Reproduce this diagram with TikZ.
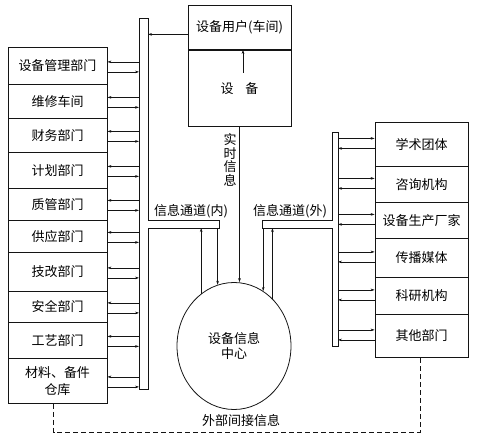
\documentclass[tikz,border=0pt]{standalone}
\usepackage{fontspec}
\setmainfont{Noto Sans CJK SC}
\usepackage{tikz}
\usetikzlibrary{shapes.geometric, arrows.meta, positioning}
\definecolor{ink}{RGB}{20,20,20}
\tikzset{
  dept/.style={rectangle, draw=ink, minimum width=99pt, inner sep=0pt,
    align=center, font=\fontsize{13}{17}\selectfont, line width=0.8pt, anchor=north},
  outer/.style={dept, minimum width=93pt},
  userbox/.style={dept, minimum width=103pt},
  hub/.style={ellipse, draw=ink, minimum width=114pt, minimum height=127pt,
    inner sep=0pt, align=center, font=\fontsize{13}{15}\selectfont, line width=0.8pt},
  bus/.style={draw=ink, fill=white, line width=0.8pt},
  arrow/.style={-{Stealth[length=4pt,width=2.6pt]}, line width=0.5pt, color=ink},
  lbl/.style={font=\fontsize{13}{13.5}\selectfont, inner sep=0pt, align=center},
  dashline/.style={dash pattern=on 5pt off 3pt, line width=0.6pt, color=ink}
}

\begin{document}
\begin{tikzpicture}[x=1pt, y=-1pt]
  \useasboundingbox (0,0) rectangle (477,441);

  % Equipment user (workshop)
  \node[userbox, minimum height=44pt] (user) at (239.5,5) {设备用户(车间)};
  \node[userbox, minimum height=76pt, below=0pt of user] (equip) {设\hspace{0.9em}备};

  % Internal departments
  \node[dept, minimum height=37pt] (l1) at (57.5,47) {设备管理部门};
  \node[dept, minimum height=34pt] (l2) at (57.5,84) {维修车间};
  \node[dept, minimum height=34pt] (l3) at (57.5,118) {财务部门};
  \node[dept, minimum height=36pt] (l4) at (57.5,152) {计划部门};
  \node[dept, minimum height=32pt] (l5) at (57.5,188) {质管部门};
  \node[dept, minimum height=32pt] (l6) at (57.5,220) {供应部门};
  \node[dept, minimum height=39pt] (l7) at (57.5,252) {技改部门};
  \node[dept, minimum height=31pt] (l8) at (57.5,291) {安全部门};
  \node[dept, minimum height=36pt] (l9) at (57.5,322) {工艺部门};
  \node[dept, minimum height=45pt] (l10) at (57.5,358) {材料、备件\\仓库};

  % External bodies
  \node[outer, minimum height=44pt] (r1) at (421.5,122) {学术团体};
  \node[outer, minimum height=36pt] (r2) at (421.5,166) {咨询机构};
  \node[outer, minimum height=36pt] (r3) at (421.5,202) {设备生产厂家};
  \node[outer, minimum height=39pt] (r4) at (421.5,238) {传播媒体};
  \node[outer, minimum height=37pt] (r5) at (421.5,277) {科研机构};
  \node[outer, minimum height=43pt] (r6) at (421.5,314) {其他部门};

  % Information centre
  \node[hub] (infoc) at (234,346) {设备信息\\中心};

  % Channels (internal / external)
  \draw[bus] (139,18) -- (148,18) -- (148,220) -- (219,220) -- (219,228)
    -- (148,228) -- (148,389) -- (139,389) -- cycle;
  \draw[bus] (338,132) -- (332,132) -- (332,220) -- (262,220) -- (262,228)
    -- (332,228) -- (332,346) -- (338,346) -- cycle;
  \coordinate (busLw) at (139,0);
  \coordinate (busLe) at (148,0);
  \coordinate (busRe) at (338,0);
  \coordinate (chL) at (219,228);
  \coordinate (chR) at (262,228);
  \node[lbl] (inner) at (191,211) {信息通道(内)};
  \node[lbl] (outerch) at (290,211) {信息通道(外)};

  % Department <-> channel
  \foreach \i in {1,...,10} {
    \draw[arrow] ([yshift=4pt]l\i.east -| busLw) -- ([yshift=4pt]l\i.east);
    \draw[arrow] ([yshift=-6pt]l\i.east) -- ([yshift=-6pt]l\i.east -| busLw);
  }
  \foreach \i in {1,...,6} {
    \draw[arrow] ([yshift=6pt]r\i.west -| busRe) -- ([yshift=6pt]r\i.west);
    \draw[arrow] ([yshift=-4pt]r\i.west) -- ([yshift=-4pt]r\i.west -| busRe);
  }

  % User / equipment
  \draw[arrow] ([yshift=-7pt]user.west) -- ([yshift=-7pt]user.west -| busLe);
  \draw[arrow] ([xshift=3.5pt,yshift=-23pt]equip.north) -- ([xshift=3.5pt]equip.north);

  % Real-time information
  \draw[arrow] (equip.south) -- (infoc.north -| equip.south);
  \node[lbl] (rt) at (230,160) {实\\时\\信\\息};

  % Channels <-> centre
  \draw[arrow] (infoc.122) -- (infoc.122 |- chL);
  \draw[arrow] (infoc.105 |- chL) -- (infoc.105);
  \draw[arrow] (infoc.62 |- chR) -- (infoc.62);
  \draw[arrow] (infoc.51) -- (infoc.51 |- chR);

  % External indirect information
  \coordinate (dashR) at (420,432);
  \draw[dashline] ([xshift=-4pt]l10.south) |- (dashR) -- (dashR |- r6.south);
  \node[lbl] (indirect) at (241,421) {外部间接信息};
\end{tikzpicture}
\end{document}
